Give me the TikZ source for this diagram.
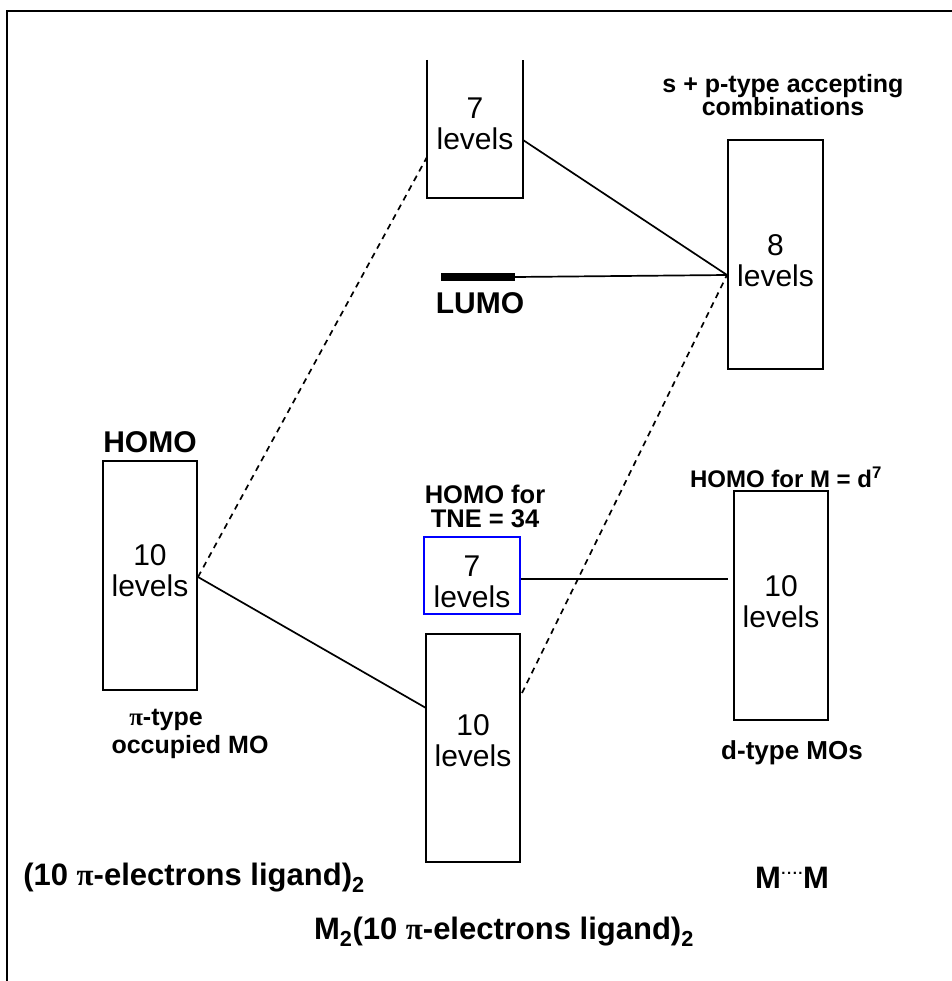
\documentclass[tikz,border=0pt]{standalone}
\usepackage{fontspec}
\setmainfont{Liberation Sans}
\newfontfamily\pifont{Liberation Serif}
\newcommand{\pisym}{{\pifont π}}
\begin{document}
\begin{tikzpicture}[x=1pt,y=-1pt,
  box/.style={draw, line width=1.8pt, inner sep=0pt, minimum width=94pt, minimum height=229pt},
  lv/.style={font=\fontsize{30}{31}\selectfont, align=center, inner sep=0pt},
  lab/.style={font=\bfseries\fontsize{25}{23.5}\selectfont, align=center, inner sep=0pt},
  big/.style={font=\bfseries\fontsize{30}{30}\selectfont, inner sep=0pt},
  foot/.style={font=\bfseries\fontsize{31}{31}\selectfont, inner sep=0pt},
  conn/.style={line width=1.7pt},
  dconn/.style={line width=1.7pt, dash pattern=on 6pt off 5pt}]
\useasboundingbox (0,0) rectangle (951,981);
% frame
\draw[line width=1.8pt] (7,981) -- (7,11) -- (955,11);

% boxes
\node[inner sep=0pt, minimum width=96pt, minimum height=138pt] (boxA) at (475,129) {};
\draw[line width=1.9pt] (boxA.north west) -- (boxA.south west) -- (boxA.south east) -- (boxA.north east);
\node[lv] (tA) at (475,124) {7\\levels};

\node[box, minimum width=95pt] (boxS) at (775.5,254.5) {};
\node[lv] (tS) at (775.5,261) {8\\levels};

\node[box] (boxB) at (150,575.5) {};
\node[lv] (tB) at (150,571) {10\\levels};

\node[draw=blue, line width=1.8pt, inner sep=0pt, minimum width=96pt, minimum height=77pt] (boxC) at (472,575.5) {};
\node[lv] (tC) at (472,582) {7\\levels};

\node[box, minimum height=228pt] (boxD) at (473,748) {};
\node[lv] (tD) at (473,741) {10\\levels};

\node[box] (boxE) at (781,605.5) {};
\node[lv] (tE) at (781,602) {10\\levels};

% LUMO bar
\node[fill=black, inner sep=0pt, minimum width=74pt, minimum height=8pt] (lumo) at (478,277) {};

% junctions
\coordinate (J1) at (727,275);
\coordinate (J2) at (198,577);
\coordinate (A1) at (427,157);
\coordinate (A2) at (523,140);
\coordinate (D1) at (426,708);
\coordinate (D2) at (522,693);
\coordinate (E1) at (728,579);

% connectors
\draw[conn] (A2) -- (J1);
\draw[conn] (lumo.east) -- (J1);
\draw[dconn] (D2) -- (J1);
\draw[dconn] (J2) -- (A1);
\draw[conn] (J2) -- (D1);
\draw[conn] (boxC.east |- E1) -- (E1);

% labels
\node[lab] (spl) at (783,95) {s + p-type accepting\\combinations};
\node[big] (lumol) at (480,303) {LUMO};
\node[big] (homol) at (150,442) {HOMO};
\node[lab, font=\bfseries\fontsize{25.5}{24}\selectfont] (tnel) at (485,506) {HOMO for\\TNE = 34};
\node[lab, font=\bfseries\fontsize{24}{24}\selectfont] (homod) at (786,477) {HOMO for M = d\textsuperscript{7}};
\node[lab] (pit) at (166,720) {\pisym-type};
\node[lab] (occ) at (190,747) {occupied MO};
\node[lab, font=\bfseries\fontsize{26}{26}\selectfont] (dty) at (792,753) {d-type MOs};
\node[foot] (lig) at (194,878) {(10 \pisym-electrons ligand)\textsubscript{2}};
\node[foot] (mm) at (792,878) {M\hspace{0.5pt}\raisebox{14pt}{\fontsize{15}{15}\selectfont .\hspace{1.5pt}.\hspace{1.5pt}.\hspace{1.5pt}.}\hspace{0.5pt}M};
\node[foot] (cplx) at (504,932) {M\textsubscript{2}(10 \pisym-electrons ligand)\textsubscript{2}};
\end{tikzpicture}
\end{document}
